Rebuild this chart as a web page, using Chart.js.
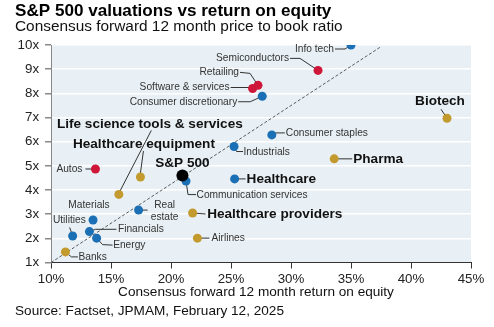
<!DOCTYPE html>
<html>
<head>
<meta charset="utf-8">
<script src="https://cdn.jsdelivr.net/npm/chart.js@4"></script>
<style>
  html, body { margin: 0; padding: 0; background: #fff; }
  #wrap { width: 494px; height: 327px; }
</style>
</head>
<body>
<div id="wrap"><canvas id="myChart"></canvas></div>
<script>
const FONT = "'Liberation Sans', Arial, sans-serif";

// sectors / industries, forward ROE (%) and forward P/B (x)
const names = ['Info tech', 'Semiconductors', 'Retailing', 'Software & services', 'Consumer discretionary',
  'Biotech', 'Consumer staples', 'Industrials', 'Pharma', 'Healthcare', 'Communication services',
  'Healthcare equipment', 'Life science tools & services', 'Autos', 'Real estate', 'Healthcare providers',
  'Airlines', 'Materials', 'Financials', 'Energy', 'Utilities', 'Banks', 'S&P 500'];
const roe = [35.0, 32.25, 27.25, 26.8, 27.6, 43.0, 28.4, 25.25, 33.6, 25.3, 21.25,
  17.45, 15.65, 13.7, 17.3, 21.8, 22.2, 13.5, 13.2, 13.8, 11.8, 11.2, 20.95];
const pb = [10.0, 8.95, 8.33, 8.2, 7.88, 6.97, 6.28, 5.8, 5.29, 4.46, 4.37,
  4.54, 3.82, 4.87, 3.17, 3.05, 2.01, 2.76, 2.28, 2.01, 2.1, 1.44, 4.6];
const groups = ['sector', 'growth', 'growth', 'growth', 'sector', 'health', 'sector', 'sector', 'health',
  'sector', 'sector', 'health', 'health', 'growth', 'sector', 'health', 'health', 'sector', 'sector',
  'sector', 'sector', 'health', 'index'];

// dashed reference line through the index
const fairLineX = [10, 37.4];
const fairLineY = [1, 9.9];

const xTicks = [10, 15, 20, 25, 30, 35, 40, 45];
const yTicks = [1, 2, 3, 4, 5, 6, 7, 8, 9, 10];

const colors = { sector: '#1b6fb4', growth: '#cf1638', health: '#c39a2e', index: '#000000' };
const radius = { sector: 4.5, growth: 4.5, health: 4.5, index: 6 };

// label placement: text offset from the point, alignment, leader path (px)
const labelStyle = {
  'Info tech': { dx: -17, dy: 4, align: 'right', path: [[-16, 4], [-6, 4], [0, 0]] },
  'Semiconductors': { dx: -29, dy: -12, align: 'right', path: [[-28, -12], [-18, -12], [0, 0]] },
  'Retailing': { dx: -19, dy: -13, align: 'right', path: [[-18, -13], [-8, -12], [0, 0]] },
  'Software & services': { dx: -23, dy: -1, align: 'right', path: [[-22, -1], [0, -1]] },
  'Consumer discretionary': { dx: -25, dy: 6, align: 'right', path: [[-24, 5.5], [-12, 5.5], [0, 0]] },
  'Biotech': { dx: -7, dy: -17, align: 'center', bold: true, path: [[-6, -9], [0, 0]] },
  'Consumer staples': { dx: 14, dy: -2, align: 'left', path: [[0, 0], [4, -2], [13, -2]] },
  'Industrials': { dx: 9.5, dy: 5.5, align: 'left', path: [[0, 0], [2.5, 5], [9, 5]] },
  'Pharma': { dx: 19, dy: 0, align: 'left', bold: true, path: [[0, 0], [18, 0]] },
  'Healthcare': { dx: 12, dy: 0, align: 'left', bold: true, path: [[0, 0], [11, 0]] },
  'Communication services': { dx: 10.5, dy: 14, align: 'left', path: [[0, 0], [2, 13.5], [10, 13.5]] },
  'S&P 500': { dx: 0, dy: -12.5, align: 'center', bold: true },
  'Healthcare equipment': { dx: 3.5, dy: -33, align: 'center', bold: true, path: [[3, -26], [0, -4]] },
  'Life science tools & services': { dx: 31, dy: -70, align: 'center', bold: true, path: [[32.5, -64], [1, -3]] },
  'Autos': { dx: -13, dy: 0, align: 'right', path: [[-10, 0], [0, 0]] },
  'Real estate': { dx: 26, dy: -5, align: 'center', lines: ['Real', 'estate'], path: [[0, 0], [9, 0]] },
  'Healthcare providers': { dx: 14.5, dy: 1.5, align: 'left', bold: true, path: [[0, 0], [13, 1]] },
  'Airlines': { dx: 14, dy: 0, align: 'left', path: [[0, 0], [12, 0]] },
  'Materials': { dx: -4, dy: -14.5, align: 'center' },
  'Financials': { dx: 28.5, dy: -2.3, align: 'left', path: [[0, 0], [6, -2.3], [27, -2.3]] },
  'Energy': { dx: 16.5, dy: 7.3, align: 'left', path: [[0, 0], [6, 6.5], [16, 7]] },
  'Utilities': { dx: -3.3, dy: -15.5, align: 'center', path: [[-3, -8.5], [-1, -3]] },
  'Banks': { dx: 13, dy: 5, align: 'left', path: [[0, 0], [6, 5], [12.5, 5]] }
};

const groupOrder = ['sector', 'growth', 'health', 'index'];
const pointSets = groupOrder.map((g, i) => {
  const pts = [];
  names.forEach((n, k) => {
    if (groups[k] === g) pts.push({ x: roe[k], y: pb[k], name: n });
  });
  return {
    type: 'scatter',
    data: pts,
    backgroundColor: colors[g],
    borderColor: colors[g],
    borderWidth: 0,
    pointRadius: radius[g],
    order: 3 - i
  };
});

const fairLine = {
  type: 'line',
  data: fairLineX.map((x, i) => ({ x: x, y: fairLineY[i] })),
  borderColor: '#333',
  borderWidth: 0.8,
  borderDash: [3, 2],
  pointRadius: 0,
  order: 10
};

// shaded plot area behind the grid
const plotBackground = {
  id: 'plotBackground',
  beforeDraw(chart) {
    const { ctx, chartArea: a } = chart;
    ctx.save();
    ctx.fillStyle = '#e8f0f5';
    ctx.fillRect(a.left, a.top, a.right - a.left, a.bottom - a.top);
    ctx.restore();
  }
};

function pointPx(chart, name) {
  const k = names.indexOf(name);
  return [chart.scales.x.getPixelForValue(roe[k]), chart.scales.y.getPixelForValue(pb[k])];
}

const pointLabels = {
  id: 'pointLabels',
  beforeDatasetsDraw(chart) {
    const ctx = chart.ctx;
    ctx.save();
    ctx.strokeStyle = '#333';
    ctx.lineWidth = 1;
    Object.keys(labelStyle).forEach(name => {
      const s = labelStyle[name];
      if (!s.path) return;
      const [px, py] = pointPx(chart, name);
      ctx.beginPath();
      s.path.forEach(([dx, dy], i) => {
        if (i === 0) ctx.moveTo(px + dx, py + dy);
        else ctx.lineTo(px + dx, py + dy);
      });
      ctx.stroke();
    });
    ctx.restore();
  },
  afterDatasetsDraw(chart) {
    const ctx = chart.ctx;
    ctx.save();
    ctx.textBaseline = 'middle';
    Object.keys(labelStyle).forEach(name => {
      const s = labelStyle[name];
      const [px, py] = pointPx(chart, name);
      ctx.font = s.bold ? 'bold 13.6px ' + FONT : '10.2px ' + FONT;
      ctx.fillStyle = s.bold ? '#111' : '#333';
      ctx.textAlign = s.align;
      const lines = s.lines || [name];
      lines.forEach((t, i) => ctx.fillText(t, px + s.dx, py + s.dy + i * 12));
    });
    ctx.restore();
  }
};

// headline, subtitle, axis title and source
const chartText = {
  id: 'chartText',
  afterDraw(chart) {
    const { ctx, chartArea: a } = chart;
    ctx.save();
    ctx.fillStyle = '#000';
    ctx.textBaseline = 'alphabetic';
    ctx.textAlign = 'left';
    ctx.font = 'bold 17.1px ' + FONT;
    ctx.fillText('S&P 500 valuations vs return on equity', 15, 16);
    ctx.fillStyle = '#111';
    ctx.font = '15.4px ' + FONT;
    ctx.fillText('Consensus forward 12 month price to book ratio', 15, 31);
    ctx.font = '13.6px ' + FONT;
    ctx.textAlign = 'center';
    ctx.fillText('Consensus forward 12 month return on equity', (a.left + a.right) / 2 - 5, 296);
    ctx.textAlign = 'left';
    ctx.fillText('Source: Factset, JPMAM, February 12, 2025', 15, 315);
    ctx.restore();
  }
};

const config = {
  data: { datasets: [...pointSets, fairLine] },
  options: {
    responsive: true,
    maintainAspectRatio: false,
    animation: false,
    layout: { padding: { top: 45, left: 11.6, right: 23, bottom: 36.5 } },
    plugins: { legend: { display: false }, tooltip: { enabled: false } },
    scales: {
      x: {
        type: 'linear',
        min: 10,
        max: 45,
        afterBuildTicks: s => { s.ticks = xTicks.map(v => ({ value: v })); },
        ticks: { callback: v => v + '%', color: '#222', padding: 3, font: { family: FONT, size: 13.3 } },
        grid: { drawOnChartArea: false, tickLength: 6, tickColor: '#333' },
        border: { color: '#333', width: 1 }
      },
      y: {
        type: 'linear',
        min: 1,
        max: 10,
        afterBuildTicks: s => { s.ticks = yTicks.map(v => ({ value: v })); },
        ticks: { callback: v => v + 'x', color: '#222', padding: 6, font: { family: FONT, size: 13.3 } },
        grid: {
          color: c => (c.tick && c.tick.value === 1 ? 'rgba(0,0,0,0)' : '#ffffff'),
          lineWidth: 1.5,
          tickLength: 6,
          tickColor: '#888'
        },
        border: { color: '#888', width: 1 }
      }
    }
  },
  plugins: [plotBackground, pointLabels, chartText]
};

const myChart = new Chart(document.getElementById('myChart'), config);
</script>
</body>
</html>
